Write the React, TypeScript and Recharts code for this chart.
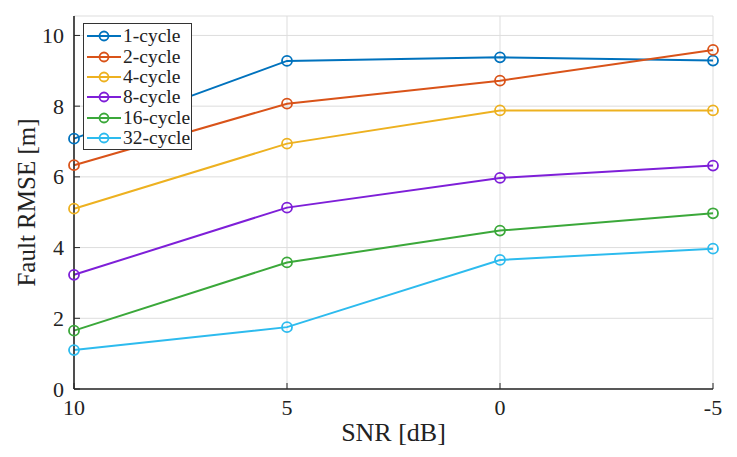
import { LineChart, Line, XAxis, YAxis, CartesianGrid } from "recharts";

const snr = [10, 5, 0, -5];
const xTicks = [10, 5, 0, -5];
const yTicks = [0, 2, 4, 6, 8, 10];

const cycle1 = [7.08, 9.28, 9.38, 9.29];
const cycle2 = [6.33, 8.07, 8.72, 9.59];
const cycle4 = [5.1, 6.94, 7.88, 7.88];
const cycle8 = [3.23, 5.13, 5.97, 6.32];
const cycle16 = [1.65, 3.58, 4.48, 4.97];
const cycle32 = [1.1, 1.75, 3.65, 3.97];

const series = [
  { key: "c1", name: "1-cycle", color: "#0072BD", values: cycle1 },
  { key: "c2", name: "2-cycle", color: "#D95319", values: cycle2 },
  { key: "c4", name: "4-cycle", color: "#EDB120", values: cycle4 },
  { key: "c8", name: "8-cycle", color: "#7E1FD8", values: cycle8 },
  { key: "c16", name: "16-cycle", color: "#3BA83A", values: cycle16 },
  { key: "c32", name: "32-cycle", color: "#2DBBEE", values: cycle32 },
];

const data = snr.map((s, i) => {
  const row: Record<string, number> = { snr: s };
  series.forEach((sr) => {
    row[sr.key] = sr.values[i];
  });
  return row;
});

const FONT = '"Liberation Serif", "Times New Roman", serif';
const AXIS = "#262626";

const BottomTick = (props: any) => {
  const { x, y, payload } = props;
  return (
    <g>
      <line x1={x} y1={y} x2={x} y2={y - 6} stroke={AXIS} strokeWidth={1} />
      <text x={x} y={y + 26} textAnchor="middle" fontFamily={FONT} fontSize={22} fill="#222">
        {payload.value}
      </text>
    </g>
  );
};

const LeftTick = (props: any) => {
  const { x, y, payload } = props;
  return (
    <g>
      <line x1={x} y1={y} x2={x + 6} y2={y} stroke={AXIS} strokeWidth={1} />
      <text x={x - 10} y={y + 7.5} textAnchor="end" fontFamily={FONT} fontSize={22} fill="#222">
        {payload.value}
      </text>
    </g>
  );
};

const TopTick = (props: any) => {
  const { x, y } = props;
  return <line x1={x} y1={y} x2={x} y2={y + 6} stroke={AXIS} strokeWidth={1} />;
};

const RightTick = (props: any) => {
  const { x, y } = props;
  return <line x1={x} y1={y} x2={x - 6} y2={y} stroke={AXIS} strokeWidth={1} />;
};

const LegendBox = () => (
  <div
    style={{
      position: "absolute",
      left: 83,
      top: 23,
      width: 107,
      height: 123,
      border: "1px solid #333",
      background: "#fff",
      paddingTop: 2,
    }}
  >
    {series.map((s) => (
      <div
        key={s.key}
        style={{
          display: "flex",
          alignItems: "center",
          height: 20.4,
          fontFamily: FONT,
          fontSize: 19.5,
          color: "#222",
        }}
      >
        <svg width={38} height={20} style={{ flex: "none" }}>
          <line x1={3} y1={10} x2={37} y2={10} stroke={s.color} strokeWidth={2} />
          <circle cx={20} cy={10} r={4.5} fill="none" stroke={s.color} strokeWidth={1.8} />
        </svg>
        <span style={{ marginLeft: 1, whiteSpace: "nowrap" }}>{s.name}</span>
      </div>
    ))}
  </div>
);

export default function App() {
  return (
    <div style={{ position: "absolute", left: 0, top: 0, width: 737, height: 457, background: "#fff" }}>
      <LineChart width={737} height={457} data={data} margin={{ top: 16, right: 24, bottom: 0, left: 0 }}>
        <CartesianGrid stroke="#dddddd" strokeWidth={1} />
        <XAxis
          dataKey="snr"
          type="number"
          domain={[-5, 10]}
          reversed
          ticks={xTicks}
          height={68}
          tickSize={0}
          tickMargin={0}
          tickLine={false}
          tick={<BottomTick />}
          axisLine={{ stroke: AXIS, strokeWidth: 1.6 }}
          label={(p: any) => (
            <text
              x={p.viewBox.x + p.viewBox.width / 2}
              y={441}
              textAnchor="middle"
              fontFamily={FONT}
              fontSize={26}
              fill="#222"
            >
              SNR [dB]
            </text>
          )}
        />
        <XAxis
          xAxisId="top"
          orientation="top"
          dataKey="snr"
          type="number"
          domain={[-5, 10]}
          reversed
          ticks={xTicks}
          height={0}
          tickSize={0}
          tickMargin={0}
          tickLine={false}
          tick={<TopTick />}
          axisLine={{ stroke: AXIS, strokeWidth: 1.6 }}
        />
        <YAxis
          type="number"
          domain={[0, 10.55]}
          ticks={yTicks}
          width={74}
          tickSize={0}
          tickMargin={0}
          tickLine={false}
          tick={<LeftTick />}
          axisLine={{ stroke: AXIS, strokeWidth: 1.6 }}
          label={(p: any) => (
            <text
              x={26}
              y={p.viewBox.y + p.viewBox.height / 2}
              transform={`rotate(-90, 26, ${p.viewBox.y + p.viewBox.height / 2})`}
              textAnchor="middle"
              dominantBaseline="central"
              fontFamily={FONT}
              fontSize={25}
              fill="#222"
            >
              Fault RMSE [m]
            </text>
          )}
        />
        <YAxis
          yAxisId="right"
          orientation="right"
          type="number"
          domain={[0, 10.55]}
          ticks={yTicks}
          width={0}
          tickSize={0}
          tickMargin={0}
          tickLine={false}
          tick={<RightTick />}
          axisLine={{ stroke: AXIS, strokeWidth: 1.6 }}
        />
        {series.map((s) => (
          <Line
            key={s.key}
            dataKey={s.key}
            name={s.name}
            type="linear"
            stroke={s.color}
            strokeWidth={2}
            dot={{ r: 5, fill: "none", stroke: s.color, strokeWidth: 1.8 }}
            activeDot={false}
            isAnimationActive={false}
          />
        ))}
      </LineChart>
      <LegendBox />
    </div>
  );
}
